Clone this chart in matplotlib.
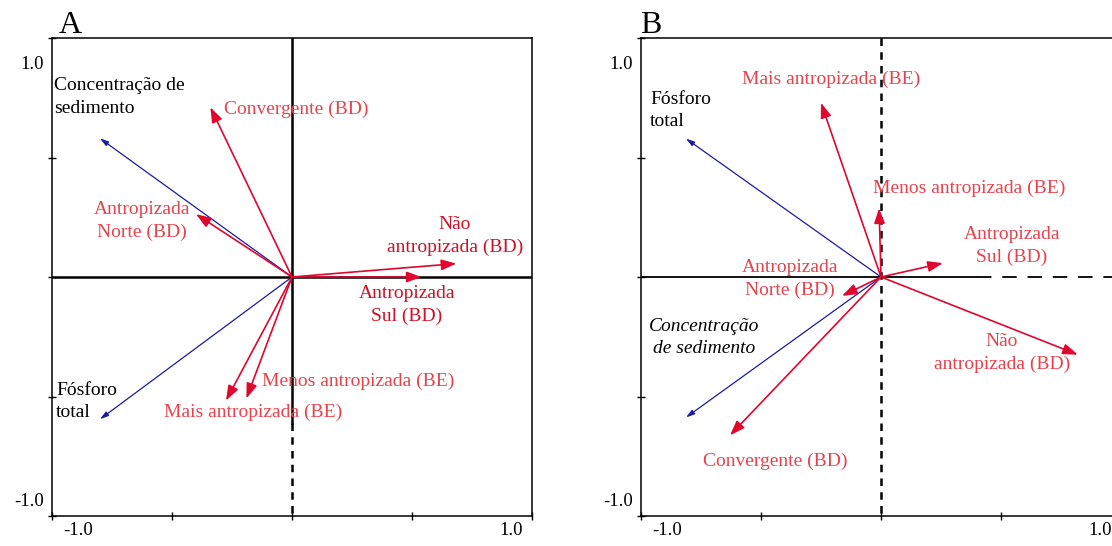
import matplotlib.pyplot as plt

plt.rcParams['font.family'] = ['Liberation Serif', 'DejaVu Serif']

# painel A
a_names = ["Concentração de\nsedimento", "Fósforo\ntotal", "Convergente (BD)",
           "Antropizada\nNorte (BD)", "Não\nantropizada (BD)", "Antropizada\nSul (BD)",
           "Mais antropizada (BE)", "Menos antropizada (BE)"]
a_x = [-0.80, -0.80, -0.34, -0.40, 0.685, 0.54, -0.275, -0.19]
a_y = [0.58, -0.595, 0.71, 0.263, 0.056, 0.0, -0.517, -0.508]
a_kind = ["env", "env", "sp", "sp", "sp", "sp", "sp", "sp"]
a_lab_x = [-0.992, -0.983, -0.283, -0.625, 0.679, 0.479, -0.533, -0.125]
a_lab_y = [0.754, -0.521, 0.70, 0.233, 0.171, -0.117, -0.567, -0.4375]

# painel B
b_names = ["Fósforo\ntotal", "Concentração\nde sedimento", "Mais antropizada (BE)",
           "Menos antropizada (BE)", "Antropizada\nSul (BD)", "Antropizada\nNorte (BD)",
           "Não\nantropizada (BD)", "Convergente (BD)"]
b_x = [-0.8125, -0.8125, -0.25, -0.008, 0.258, -0.1625, 0.82, -0.629]
b_y = [0.579, -0.5875, 0.729, 0.2875, 0.058, -0.079, -0.325, -0.6625]
b_kind = ["env", "env", "sp", "sp", "sp", "sp", "sp", "sp"]
b_lab_x = [-0.9625, -0.7375, -0.579, -0.033, 0.546, -0.379, 0.504, -0.442]
b_lab_y = [0.696, -0.254, 0.825, 0.371, 0.129, -0.008, -0.317, -0.771]

RED_ARROW = '#e0062e'
RED_TEXT = '#e8434c'
DARK_RED = '#d10f25'
BLUE = '#1c1c9c'

fig = plt.figure(figsize=(11.12, 5.46), dpi=100)
axA = fig.add_axes([52/1112, 30/546, 480/1112, 478/546])
axB = fig.add_axes([641/1112, 30/546, 480/1112, 478/546])


def frame(ax, letter, lx):
    ax.set_xlim(-1, 1)
    ax.set_ylim(-1, 1)
    for s in ax.spines.values():
        s.set_linewidth(1.1)
    ax.set_xticks([-1, -0.5, 0, 0.5, 1])
    ax.set_yticks([-1, -0.5, 0, 0.5, 1])
    ax.tick_params(direction='inout', length=6, width=1, labelleft=False, labelbottom=False)
    ax.text(-1.035, 0.8875, "1.0", ha='right', va='center', fontsize=13.5)
    ax.text(-1.035, -0.9375, "-1.0", ha='right', va='center', fontsize=13.5)
    ax.text(-0.89, -1.0625, "-1.0", ha='center', va='center', fontsize=13.5, clip_on=False)
    ax.text(0.915, -1.0625, "1.0", ha='center', va='center', fontsize=13.5, clip_on=False)
    ax.text(lx, 1.054, letter, ha='left', va='center', fontsize=23, clip_on=False)


def arrows(ax, names, xs, ys, kinds, lxs, lys, dark=(), italic=(), left=()):
    for i in range(len(names)):
        if kinds[i] == "env":
            ax.annotate("", xy=(xs[i], ys[i]), xytext=(0, 0),
                        arrowprops=dict(arrowstyle='-|>,head_length=0.5,head_width=0.15',
                                        color=BLUE, lw=0.9, shrinkA=0, shrinkB=0,
                                        mutation_scale=10))
            col = 'black'
        else:
            ax.annotate("", xy=(xs[i], ys[i]), xytext=(0, 0),
                        arrowprops=dict(arrowstyle='-|>,head_length=0.75,head_width=0.27',
                                        color=RED_ARROW, lw=1.2, shrinkA=0, shrinkB=0,
                                        mutation_scale=12))
            col = DARK_RED if i in dark else RED_TEXT
        ax.text(lxs[i], lys[i], names[i], color=col, fontsize=14,
                ha='left' if i in left else 'center', va='center', linespacing=1.42,
                style='italic' if i in italic else 'normal')


frame(axA, "A", -0.971)
axA.plot([-1, 1], [0, 0], color='black', lw=1.8)
axA.plot([0, 0], [1, -0.61], color='black', lw=1.8)
axA.plot([0, 0], [-0.61, -1], color='black', lw=1.8, ls=(0, (3, 2.5)))
arrows(axA, a_names, a_x, a_y, a_kind, a_lab_x, a_lab_y,
       dark=(4, 5), left=(0, 1, 2, 6, 7))

frame(axB, "B", -1.004)
axB.plot([0, 0], [1, -1], color='black', lw=1.8, ls=(0, (3, 2.5)))
axB.plot([-1, 0.4], [0, 0], color='black', lw=1.3)
axB.plot([0.4, 1], [0, 0], color='black', lw=1.3, ls=(0, (8, 6)))
arrows(axB, b_names, b_x, b_y, b_kind, b_lab_x, b_lab_y,
       italic=(1,), left=(0, 2, 3))

fig.savefig("out.png", dpi=100)
